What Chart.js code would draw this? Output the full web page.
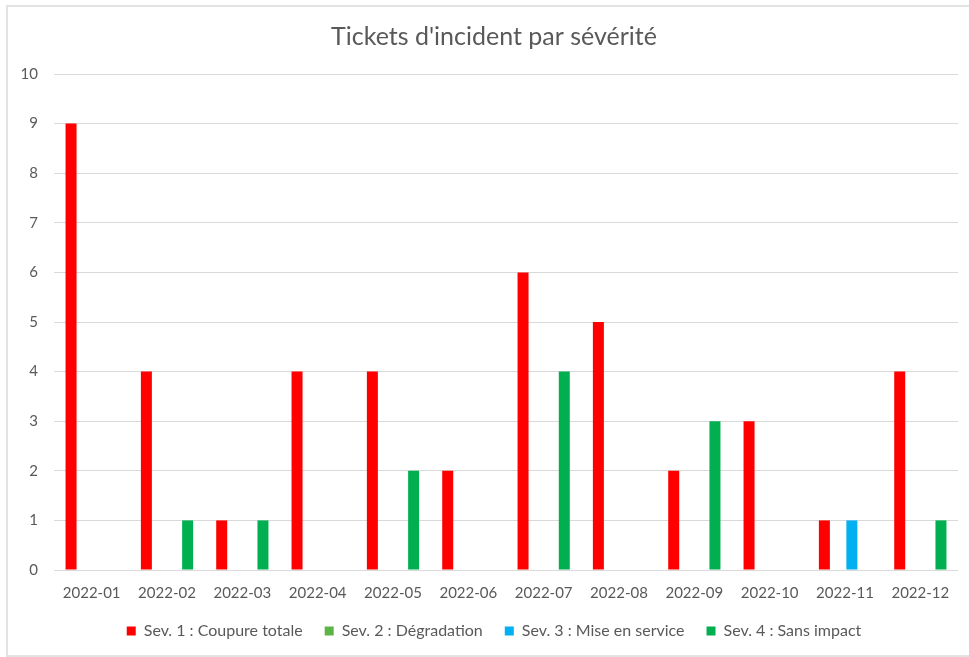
<!DOCTYPE html>
<html>
<head>
<meta charset="utf-8">
<script src="https://cdn.jsdelivr.net/npm/chart.js@4"></script>
<style>
  body { margin: 0; background: #fff; overflow: hidden; }
  #wrap { position: relative; width: 969px; height: 657px; }
  #frame { position: absolute; left: 6px; top: 5px; width: 980px; height: 648px; border: 2px solid #e3e3e3; }
  canvas { position: absolute; left: 0; top: 0; }
</style>
</head>
<body>
<div id="wrap">
  <div id="frame"></div>
  <canvas id="incidentChart" width="969" height="657"></canvas>
</div>
<script>
// mois
const months = ['2022-01', '2022-02', '2022-03', '2022-04', '2022-05', '2022-06',
                '2022-07', '2022-08', '2022-09', '2022-10', '2022-11', '2022-12'];

// nombre de tickets par sévérité
const sev1 = [9, 4, 1, 4, 4, 2, 6, 5, 2, 3, 1, 4];
const sev2 = [0, 0, 0, 0, 0, 0, 0, 0, 0, 0, 0, 0];
const sev3 = [0, 0, 0, 0, 0, 0, 0, 0, 0, 0, 1, 0];
const sev4 = [0, 1, 1, 0, 2, 0, 4, 0, 3, 0, 0, 1];

const yTicks = [0, 1, 2, 3, 4, 5, 6, 7, 8, 9, 10];

const font = 'Lato, "Open Sans", sans-serif';
const grey = '#595959';

const ctx = document.getElementById('incidentChart').getContext('2d');
new Chart(ctx, {
    type: 'bar',
    data: {
        labels: months,
        datasets: [
            { label: 'Sev. 1 : Coupure totale', data: sev1, backgroundColor: '#ff0000' },
            { label: 'Sev. 2 : Dégradation', data: sev2, backgroundColor: '#5cb346' },
            { label: 'Sev. 3 : Mise en service', data: sev3, backgroundColor: '#00b0f0' },
            { label: 'Sev. 4 : Sans impact', data: sev4, backgroundColor: '#00b050' }
        ]
    },
    options: {
        responsive: false,
        animation: false,
        datasets: {
            bar: { categoryPercentage: 0.73, barPercentage: 0.8 }
        },
        // décalage à gauche pour centrer le titre comme dans Excel
        layout: { padding: { left: 19, right: 0, top: 0, bottom: 8 } },
        plugins: {
            title: {
                display: true,
                text: "Tickets d'incident par sévérité",
                color: grey,
                font: { family: font, size: 25, weight: 'normal' },
                padding: { top: 22, bottom: 22 }
            },
            legend: {
                position: 'bottom',
                labels: {
                    boxWidth: 9,
                    boxHeight: 9,
                    padding: 22,
                    color: grey,
                    font: { family: font, size: 16 }
                }
            },
            tooltip: { enabled: false }
        },
        scales: {
            x: {
                // hauteur fixe : padding compté une seule fois
                afterFit: scale => { scale.height = 31; },
                grid: { display: false, drawTicks: false },
                border: { display: false },
                ticks: { color: grey, padding: 14, font: { family: font, size: 15 } }
            },
            y: {
                min: 0,
                max: 10,
                afterFit: scale => { scale.width = 35; },
                afterBuildTicks: scale => { scale.ticks = yTicks.map(v => ({ value: v })); },
                grid: { color: '#d9d9d9', lineWidth: 1, drawTicks: false },
                border: { display: false },
                ticks: { color: grey, padding: 16, font: { family: font, size: 15 } }
            },
            // axe vide à droite, sert seulement de marge
            yRight: {
                position: 'right',
                afterFit: scale => { scale.width = 11; },
                grid: { display: false, drawTicks: false },
                border: { display: false },
                ticks: { display: false }
            }
        }
    }
});
</script>
</body>
</html>
